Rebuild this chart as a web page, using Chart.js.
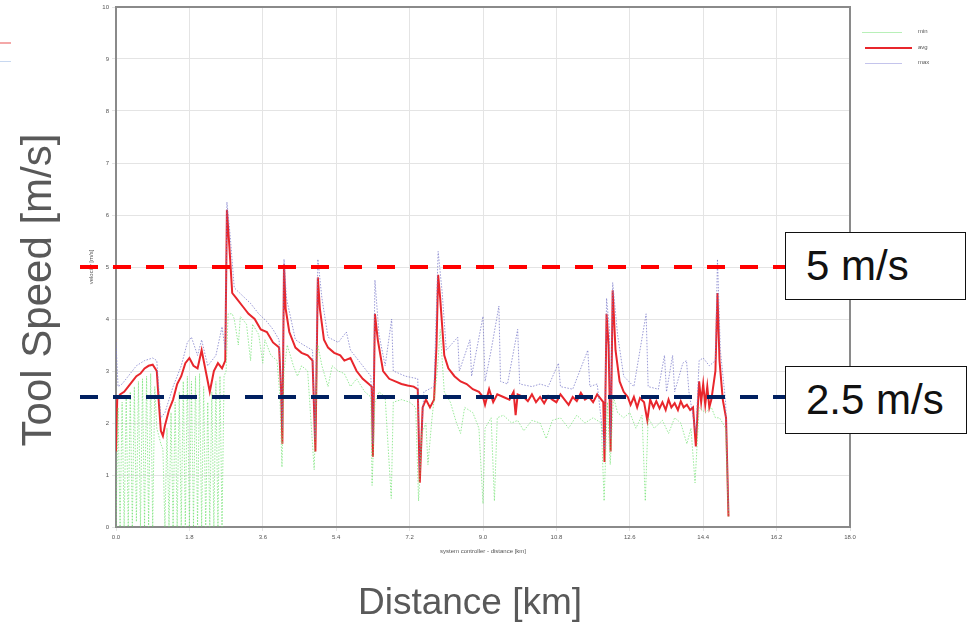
<!DOCTYPE html>
<html>
<head>
<meta charset="utf-8">
<script src="https://cdn.jsdelivr.net/npm/chart.js@4.4.1/dist/chart.umd.min.js"></script>
<style>
  body { margin: 0; background: #fff; font-family: "Liberation Sans", Arial, sans-serif; }
  #wrap { position: relative; width: 973px; height: 623px; overflow: hidden; }
  canvas { position: absolute; left: 0; top: 0; }
  .big { position: absolute; color: #595959; white-space: nowrap; }
  .box { position: absolute; left: 785px; height: 66px; border: 1.5px solid #111;
         background: #fff; font-size: 42px; line-height: 66px; padding-left: 20px; box-sizing: content-box; color: #111; }
  .lg { position: absolute; font-size: 6px; color: #555; }
  .lgline { position: absolute; }
</style>
</head>
<body>
<div id="wrap">
  <canvas id="speedChart" width="973" height="623"></canvas>

  <div class="big" style="left:37px; top:290px; font-size:42px; transform: translate(-50%,-50%) rotate(-90deg);">Tool Speed [m/s]</div>
  <div class="big" style="left:470px; top:602px; font-size:37px; transform: translate(-50%,-50%);">Distance [km]</div>

  <div class="box" style="top:232px; width:159px;">5 m/s</div>
  <div class="box" style="top:366px; width:160px;">2.5 m/s</div>

  <!-- legend of the original plot -->
  <div class="lgline" style="left:862px; top:32px; width:40px; height:1px; background:#b8f0b8;"></div>
  <div class="lg" style="left:918px; top:28px;">min</div>
  <div class="lgline" style="left:865px; top:47px; width:47px; height:2px; background:#e8262c;"></div>
  <div class="lg" style="left:918px; top:44px;">avg</div>
  <div class="lgline" style="left:865px; top:63px; width:37px; height:1px; background:#c4c4ec;"></div>
  <div class="lg" style="left:918px; top:59px;">max</div>

  <!-- cut-off legend remnant at the left edge -->
  <div class="lgline" style="left:0px; top:42px; width:11px; height:2px; background:#f4a8a8;"></div>
  <div class="lgline" style="left:0px; top:61px; width:11px; height:1px; background:#c8d8f0;"></div>
</div>

<script>
// tick labels
const xTicks = [0, 1.8, 3.6, 5.4, 7.2, 9.0, 10.8, 12.6, 14.4, 16.2, 18.0];
const yTicks = [0, 1, 2, 3, 4, 5, 6, 7, 8, 9, 10];

// reference lines [m/s]
const thresholds = [5, 2.5];

// average speed
const avgDist = [0.00, 0.03, 0.10, 0.20, 0.30, 0.40, 0.50, 0.60, 0.70, 0.80, 0.90, 1.00, 1.05, 1.10, 1.15, 1.20, 1.30, 1.40, 1.50, 1.60,
  1.70, 1.80, 1.90, 2.00, 2.10, 2.20, 2.30, 2.40, 2.50, 2.60, 2.68, 2.72, 2.78, 2.85, 2.95, 3.10, 3.25, 3.40, 3.55, 3.70,
  3.85, 4.00, 4.05, 4.08, 4.12, 4.16, 4.25, 4.40, 4.55, 4.70, 4.82, 4.86, 4.89, 4.95, 5.00, 5.10, 5.20, 5.35, 5.50, 5.60,
  5.75, 5.90, 6.05, 6.20, 6.27, 6.30, 6.35, 6.42, 6.55, 6.70, 6.85, 7.00, 7.15, 7.30, 7.40, 7.45, 7.52, 7.60, 7.70, 7.80,
  7.86, 7.90, 7.95, 8.05, 8.15, 8.30, 8.45, 8.60, 8.75, 8.90, 9.00, 9.05, 9.15, 9.25, 9.35, 9.50, 9.65, 9.75, 9.80, 9.85,
  10.0, 10.1, 10.2, 10.3, 10.4, 10.5, 10.6, 10.7, 10.8, 10.9, 11.0, 11.1, 11.2, 11.3, 11.4, 11.5, 11.6, 11.7, 11.8, 11.95,
  11.98, 12.03, 12.08, 12.13, 12.18, 12.25, 12.35, 12.45, 12.55, 12.62, 12.70, 12.78, 12.85, 12.95, 13.03, 13.10, 13.18, 13.25, 13.33, 13.40,
  13.48, 13.55, 13.62, 13.70, 13.78, 13.85, 13.92, 14.00, 14.08, 14.15, 14.22, 14.30, 14.35, 14.40, 14.45, 14.50, 14.55, 14.60, 14.70, 14.75,
  14.80, 14.88, 14.96, 15.02];
const avgVals = [1.45, 2.45, 2.55, 2.60, 2.70, 2.80, 2.90, 2.95, 3.05, 3.10, 3.12, 3.00, 2.40, 1.85, 1.75, 1.95, 2.25, 2.45, 2.75, 2.90,
  3.15, 3.25, 3.10, 3.05, 3.40, 3.00, 2.60, 3.00, 3.15, 3.05, 3.20, 6.10, 5.40, 4.50, 4.40, 4.25, 4.10, 4.00, 3.80, 3.75,
  3.55, 3.45, 2.60, 1.60, 5.05, 4.20, 3.75, 3.45, 3.35, 3.30, 3.20, 2.20, 1.45, 4.80, 4.20, 3.60, 3.45, 3.35, 3.30, 3.20,
  3.25, 3.00, 2.85, 2.75, 2.70, 1.35, 4.10, 3.60, 3.00, 2.85, 2.80, 2.75, 2.72, 2.70, 2.65, 0.85, 2.30, 2.45, 2.30, 2.45,
  3.50, 4.85, 4.40, 3.30, 3.05, 2.90, 2.80, 2.75, 2.65, 2.60, 2.50, 2.35, 2.65, 2.40, 2.55, 2.50, 2.45, 2.60, 2.15, 2.55,
  2.50, 2.42, 2.55, 2.40, 2.50, 2.38, 2.52, 2.45, 2.40, 2.55, 2.45, 2.35, 2.50, 2.42, 2.58, 2.45, 2.50, 2.40, 2.55, 2.40,
  1.25, 4.10, 3.50, 1.45, 4.55, 3.40, 2.80, 2.60, 2.50, 2.35, 2.50, 2.30, 2.48, 2.40, 2.05, 2.45, 2.30, 2.42, 2.28, 2.40,
  2.25, 2.45, 2.30, 2.38, 2.25, 2.42, 2.30, 2.35, 2.25, 2.30, 1.55, 2.80, 2.40, 2.75, 2.35, 2.70, 2.30, 2.45, 3.00, 4.50,
  3.20, 2.45, 2.10, 0.20];

// maximum speed
const maxDist = [0.00, 0.05, 0.15, 0.30, 0.50, 0.70, 0.90, 1.00, 1.10, 1.20, 1.40, 1.60, 1.75, 1.85, 2.00, 2.10, 2.25, 2.45, 2.60, 2.68,
  2.72, 2.80, 2.90, 3.10, 3.30, 3.50, 3.70, 3.85, 4.00, 4.08, 4.12, 4.18, 4.40, 4.60, 4.82, 4.88, 4.95, 5.05, 5.20, 5.45,
  5.65, 5.75, 6.00, 6.25, 6.30, 6.35, 6.45, 6.60, 6.76, 6.80, 7.10, 7.40, 7.45, 7.55, 7.80, 7.90, 8.00, 8.10, 8.38, 8.42,
  8.68, 8.72, 9.00, 9.05, 9.20, 9.39, 9.43, 9.60, 9.85, 9.90, 10.2, 10.4, 10.6, 10.85, 10.9, 11.2, 11.57, 11.62, 11.80, 11.98,
  12.03, 12.10, 12.13, 12.18, 12.30, 12.45, 12.70, 13.00, 13.05, 13.30, 13.45, 13.50, 13.65, 13.70, 13.90, 13.99, 14.05, 14.22, 14.30, 14.40,
  14.55, 14.70, 14.75, 14.82, 14.95, 15.02];
const maxVals = [3.55, 2.70, 2.75, 2.90, 3.10, 3.20, 3.25, 3.20, 2.10, 2.20, 2.70, 3.10, 3.55, 3.65, 3.30, 3.60, 3.10, 3.30, 3.85, 3.40,
  6.25, 5.60, 4.60, 4.45, 4.30, 4.10, 3.95, 3.80, 3.60, 1.90, 5.15, 4.40, 3.60, 3.50, 3.40, 1.70, 5.15, 4.40, 3.65, 3.55,
  3.75, 3.40, 3.15, 2.90, 1.60, 4.75, 3.70, 3.10, 4.00, 3.00, 2.90, 2.85, 1.10, 2.60, 2.70, 5.30, 4.50, 3.40, 3.65, 3.00,
  3.60, 2.90, 4.05, 2.80, 3.40, 4.25, 2.80, 2.75, 3.80, 2.75, 2.70, 2.75, 2.70, 3.15, 2.70, 2.65, 3.40, 2.70, 2.75, 1.50,
  4.40, 3.80, 1.70, 4.70, 3.70, 2.90, 2.70, 4.10, 2.70, 2.65, 3.30, 2.60, 3.30, 2.60, 3.15, 3.20, 2.60, 1.80, 3.20, 3.25,
  3.10, 3.20, 5.15, 3.40, 2.40, 0.30];

// minimum speed
const minDist = [0.00, 0.05, 0.10, 0.15, 0.20, 0.25, 0.30, 0.35, 0.40, 0.45, 0.50, 0.55, 0.60, 0.65, 0.70, 0.75, 0.80, 0.85, 0.90, 0.95,
  1.00, 1.10, 1.15, 1.20, 1.25, 1.30, 1.35, 1.40, 1.45, 1.50, 1.55, 1.60, 1.65, 1.70, 1.75, 1.80, 1.85, 1.90, 1.95, 2.00,
  2.05, 2.10, 2.15, 2.20, 2.25, 2.30, 2.35, 2.40, 2.45, 2.50, 2.55, 2.60, 2.65, 2.70, 2.75, 2.85, 2.90, 3.00, 3.05, 3.20,
  3.30, 3.35, 3.50, 3.60, 3.65, 3.80, 3.95, 4.02, 4.07, 4.12, 4.20, 4.35, 4.45, 4.55, 4.70, 4.86, 4.95, 5.05, 5.20, 5.30,
  5.45, 5.60, 5.75, 5.90, 6.10, 6.25, 6.28, 6.35, 6.45, 6.60, 6.75, 6.80, 7.00, 7.20, 7.35, 7.42, 7.50, 7.60, 7.65, 7.75,
  7.88, 7.95, 8.05, 8.20, 8.35, 8.45, 8.55, 8.75, 8.90, 9.00, 9.05, 9.20, 9.28, 9.35, 9.50, 9.70, 9.85, 10.0, 10.2, 10.4,
  10.55, 10.7, 10.9, 11.1, 11.3, 11.5, 11.7, 11.9, 11.97, 12.05, 12.12, 12.20, 12.30, 12.45, 12.60, 12.75, 12.90, 12.98, 13.05, 13.20,
  13.40, 13.55, 13.70, 13.85, 14.00, 14.10, 14.20, 14.30, 14.45, 14.60, 14.70, 14.80, 14.95, 15.02];
const minVals = [0.00, 2.30, 0.00, 2.40, 0.00, 2.50, 0.00, 2.60, 0.00, 2.70, 0.10, 2.80, 0.00, 2.85, 0.00, 2.90, 0.00, 2.95, 0.00, 2.70,
  1.90, 1.60, 1.50, 0.00, 1.90, 0.00, 2.20, 0.00, 2.40, 0.00, 2.60, 0.00, 2.80, 0.00, 2.90, 0.00, 2.80, 0.00, 2.90, 0.00,
  2.95, 0.00, 2.70, 0.00, 2.40, 0.00, 2.60, 0.00, 2.80, 0.00, 2.90, 0.00, 2.90, 3.00, 4.10, 4.10, 4.00, 3.50, 4.05, 3.90,
  3.20, 3.90, 3.70, 3.15, 3.60, 3.30, 3.20, 2.50, 1.15, 3.00, 3.50, 3.10, 2.90, 3.10, 3.00, 1.10, 3.50, 3.10, 2.70, 3.10,
  3.00, 2.95, 2.70, 2.85, 2.60, 2.50, 0.80, 2.40, 2.60, 2.50, 0.55, 2.40, 2.45, 2.40, 2.30, 0.50, 1.80, 2.00, 1.20, 2.10,
  3.00, 3.80, 2.60, 2.40, 2.00, 1.80, 2.30, 2.20, 1.90, 0.45, 1.90, 2.10, 0.50, 2.10, 2.15, 2.00, 2.05, 1.85, 2.05, 2.00,
  1.70, 2.05, 2.10, 1.90, 2.15, 2.00, 2.10, 2.00, 0.50, 2.40, 1.20, 2.50, 2.20, 2.10, 2.20, 1.90, 2.15, 0.50, 2.10, 1.90,
  2.05, 1.80, 2.10, 2.00, 1.60, 1.90, 0.85, 2.30, 2.20, 2.30, 2.10, 2.10, 1.90, 0.20];

function toPoints(xs, ys) {
  return xs.map((x, i) => ({ x: x, y: ys[i] }));
}

// dashed reference lines, drawn over the data
const thresholdLines = {
  id: 'thresholdLines',
  afterDatasetsDraw(chart) {
    const ctx = chart.ctx;
    const y = chart.scales.y;
    const colors = ['#ff0000', '#002060'];
    ctx.save();
    ctx.lineWidth = 4;
    ctx.setLineDash([18, 15]);
    thresholds.forEach((t, i) => {
      const py = y.getPixelForValue(t);
      ctx.strokeStyle = colors[i];
      ctx.beginPath();
      ctx.moveTo(chart.chartArea.left - 36, py);
      ctx.lineTo(786, py);
      ctx.stroke();
    });
    ctx.restore();
  }
};

// frame around the plot area
const plotFrame = {
  id: 'plotFrame',
  beforeDatasetsDraw(chart) {
    const a = chart.chartArea;
    const ctx = chart.ctx;
    ctx.save();
    ctx.strokeStyle = '#8a8a8a';
    ctx.lineWidth = 2;
    ctx.strokeRect(a.left, a.top, a.right - a.left, a.bottom - a.top);
    ctx.restore();
  }
};

const tinyFont = { family: 'Liberation Sans', size: 6 };

new Chart(document.getElementById('speedChart'), {
  type: 'line',
  data: {
    datasets: [
      {
        label: 'min',
        data: toPoints(minDist, minVals),
        borderColor: 'rgba(110, 225, 110, 0.7)',
        borderWidth: 1,
        borderDash: [1.5, 1.5],
        pointRadius: 0
      },
      {
        label: 'max',
        data: toPoints(maxDist, maxVals),
        borderColor: 'rgba(120, 120, 200, 0.75)',
        borderWidth: 1,
        borderDash: [1.5, 1.5],
        pointRadius: 0
      },
      {
        label: 'avg',
        data: toPoints(avgDist, avgVals),
        borderColor: '#e8262c',
        borderWidth: 2,
        pointRadius: 0
      }
    ]
  },
  options: {
    responsive: false,
    animation: false,
    layout: { padding: { left: 86, right: 123, top: 7, bottom: 66 } },
    plugins: {
      legend: { display: false },
      tooltip: { enabled: false }
    },
    scales: {
      x: {
        type: 'linear',
        min: 0,
        max: 18,
        afterBuildTicks: scale => { scale.ticks = xTicks.map(v => ({ value: v })); },
        afterFit: scale => { scale.height = 30; },
        ticks: { font: tinyFont, color: '#555', padding: 3, callback: v => v.toFixed(1) },
        grid: { color: '#e4e4e4', tickLength: 4 },
        border: { color: '#777', width: 2 },
        title: { display: true, text: 'system controller - distance [km]', font: tinyFont, color: '#555', padding: 2 }
      },
      y: {
        min: 0,
        max: 10,
        afterBuildTicks: scale => { scale.ticks = yTicks.map(v => ({ value: v })); },
        afterFit: scale => { scale.width = 30; },
        ticks: { font: tinyFont, color: '#555', padding: 3 },
        grid: { color: '#e4e4e4', tickLength: 4 },
        border: { color: '#777', width: 2 },
        title: { display: true, text: 'velocity [m/s]', font: tinyFont, color: '#555', padding: 2 }
      }
    }
  },
  plugins: [plotFrame, thresholdLines]
});
</script>
</body>
</html>
